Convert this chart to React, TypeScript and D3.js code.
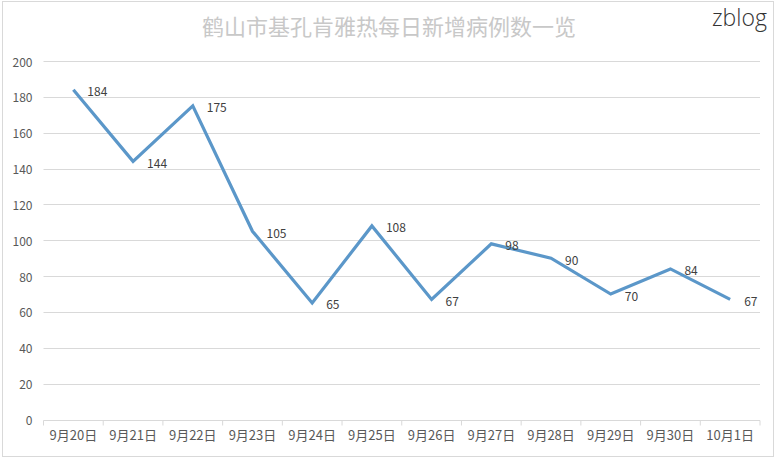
import React, { useEffect, useRef } from 'react';
import * as d3 from 'd3';

const categories = [
  '9月20日', '9月21日', '9月22日', '9月23日', '9月24日', '9月25日',
  '9月26日', '9月27日', '9月28日', '9月29日', '9月30日', '10月1日',
];
const cases = [184, 144, 175, 105, 65, 108, 67, 98, 90, 70, 84, 67];
const yTicks = [0, 20, 40, 60, 80, 100, 120, 140, 160, 180, 200];

const title = '鹤山市基孔肯雅热每日新增病例数一览';
const watermark = 'zblog';

const W = 779;
const H = 459;
const FONT = '"Noto Sans CJK SC", "Noto Sans", sans-serif';

export default function App() {
  const svgRef = useRef<SVGSVGElement>(null);

  useEffect(() => {
    if (!svgRef.current) return;
    const svg = d3.select(svgRef.current);
    svg.selectAll('*').remove();

    const margin = { top: 61, right: 19, bottom: 39.5, left: 43.5 };
    const width = W - margin.left - margin.right;
    const height = H - margin.top - margin.bottom;

    // background + outer frame
    svg.append('rect').attr('width', W).attr('height', H).attr('fill', '#fff');
    svg
      .append('rect')
      .attr('x', 2.5)
      .attr('y', 1.5)
      .attr('width', 771)
      .attr('height', 455)
      .attr('fill', 'none')
      .attr('stroke', '#d9d9d9');

    const g = svg.append('g').attr('transform', `translate(${margin.left},${margin.top})`);

    const x = d3.scaleBand().domain(categories).range([0, width]);
    const y = d3.scaleLinear().domain([0, 200]).range([height, 0]);

    // gridlines
    g.selectAll('.grid')
      .data(yTicks.filter((t) => t > 0))
      .enter()
      .append('line')
      .attr('x1', 0)
      .attr('x2', width)
      .attr('y1', (d) => Math.round(y(d)) + 0.5)
      .attr('y2', (d) => Math.round(y(d)) + 0.5)
      .attr('stroke', '#d9d9d9')
      .attr('stroke-width', 1);

    // y labels
    g.selectAll('.ylab')
      .data(yTicks)
      .enter()
      .append('text')
      .attr('x', -11)
      .attr('y', (d) => y(d))
      .attr('text-anchor', 'end')
      .attr('dominant-baseline', 'central')
      .style('font-family', FONT)
      .style('font-size', '12px')
      .style('fill', '#595959')
      .text((d) => d);

    // x axis
    const xAxis = g
      .append('g')
      .attr('transform', `translate(0,${Math.round(height) + 0.5})`);
    xAxis
      .append('line')
      .attr('x1', 0)
      .attr('x2', width)
      .attr('stroke', '#d9d9d9');
    xAxis
      .selectAll('.tick')
      .data(d3.range(categories.length + 1))
      .enter()
      .append('line')
      .attr('x1', (i) => i * x.bandwidth())
      .attr('x2', (i) => i * x.bandwidth())
      .attr('y1', 0)
      .attr('y2', 5)
      .attr('stroke', '#d9d9d9');
    xAxis
      .selectAll('.xlab')
      .data(categories)
      .enter()
      .append('text')
      .attr('x', (d) => (x(d) || 0) + x.bandwidth() / 2)
      .attr('y', 14)
      .attr('text-anchor', 'middle')
      .attr('dominant-baseline', 'central')
      .style('font-family', FONT)
      .style('font-size', '13px')
      .style('fill', '#595959')
      .text((d) => d);

    const pts = categories.map((c, i) => ({
      x: (x(c) || 0) + x.bandwidth() / 2,
      y: y(cases[i]),
      v: cases[i],
    }));

    const line = d3
      .line<{ x: number; y: number }>()
      .x((d) => d.x)
      .y((d) => d.y);

    g.append('path')
      .datum(pts)
      .attr('d', line)
      .attr('fill', 'none')
      .attr('stroke', '#5b97c9')
      .attr('stroke-width', 3.2)
      .attr('stroke-linejoin', 'miter');

    // data labels
    g.selectAll('.dlab')
      .data(pts)
      .enter()
      .append('text')
      .attr('x', (d) => d.x + 14)
      .attr('y', (d) => d.y + 1)
      .attr('dominant-baseline', 'central')
      .style('font-family', FONT)
      .style('font-size', '12px')
      .style('fill', '#404040')
      .text((d) => d.v);

    // title
    svg
      .append('text')
      .attr('x', 389)
      .attr('y', 25)
      .attr('text-anchor', 'middle')
      .attr('dominant-baseline', 'central')
      .style('font-family', FONT)
      .style('font-size', '22px')
      .style('fill', '#c8c8c8')
      .text(title);

    // watermark
    svg
      .append('text')
      .attr('x', 712)
      .attr('y', 26)
      .style('font-family', '"Open Sans", "Noto Sans", sans-serif')
      .style('font-weight', 300)
      .style('font-size', '23px')
      .style('fill', '#333')
      .text(watermark);
  }, []);

  return (
    <svg
      ref={svgRef}
      width={W}
      height={H}
      style={{ position: 'absolute', left: 0, top: 0 }}
    />
  );
}
